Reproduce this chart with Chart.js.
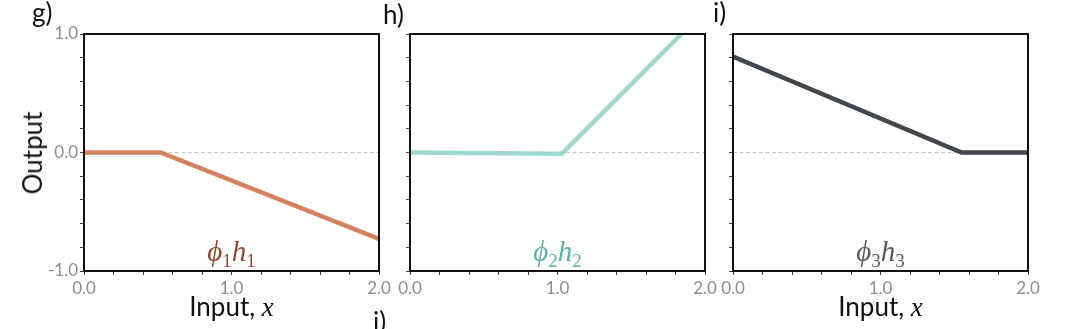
<!DOCTYPE html>
<html>
<head>
<meta charset="utf-8">
<script src="https://cdn.jsdelivr.net/npm/chart.js@4/dist/chart.umd.min.js"></script>
<style>
  body { margin: 0; background: #fff; }
  #wrap { position: relative; width: 1079px; height: 329px; overflow: hidden; font-family: Lato, "Open Sans", sans-serif; }
  #wrap canvas { position: absolute; left: 0; top: 0; }
  .txt { position: absolute; white-space: nowrap; color: #111; font-size: 26px; line-height: 1; }
  .math { font-family: "Liberation Serif", "DejaVu Serif", serif; font-size: 29px; }
  .math i { font-style: italic; }
  .math sub { font-style: normal; font-size: 19px; vertical-align: -6px; line-height: 0; }
  .xv { font-family: "Liberation Serif", serif; font-style: italic; font-size: 27px; }
</style>
</head>
<body>
<div id="wrap">
  <canvas id="c0" width="1079" height="329"></canvas>
  <canvas id="c1" width="1079" height="329"></canvas>
  <canvas id="c2" width="1079" height="329"></canvas>
</div>
<script>
// panel data
const panelLabels = ['g)', 'h)', 'i)'];
const xValues = [
  [0, 0.52, 2.0],
  [0, 1.03, 2.0],
  [0, 1.55, 2.0]
];
const yValues = [
  [0, 0, -0.73],
  [0, -0.01, 1.2],
  [0.81, 0, 0]
];
const zeroX = [0, 2];
const zeroY = [0, 0];
const xTicks = [0, 1, 2];
const yTicks = [-1, 0, 1];

const lineColors = ['#d4815e', '#9fd9cd', '#41474c'];
const mathColors = ['#8e4a2c', '#5cb0a5', '#555a5e'];
const areaLeft = [84, 410, 733];
const areaRight = [379, 705, 1028];
const areaTop = 34, areaBottom = 271;
const Y_AXIS_W = 50;

const frame = {
  id: 'frame',
  afterDatasetsDraw(chart) {
    const a = chart.chartArea, ctx = chart.ctx;
    ctx.save();
    ctx.strokeStyle = '#111';
    ctx.lineWidth = 2;
    ctx.strokeRect(a.left, a.top, a.right - a.left, a.bottom - a.top);
    ctx.restore();
  }
};

function majorLabel(list) {
  return v => list.some(t => Math.abs(t - v) < 1e-6) ? v.toFixed(1) : '';
}

const wrap = document.getElementById('wrap');
function addText(html, cls, css) {
  const d = document.createElement('div');
  d.className = 'txt ' + (cls || '');
  d.innerHTML = html;
  Object.assign(d.style, css);
  wrap.appendChild(d);
  return d;
}

panelLabels.forEach((label, i) => {
  const pts = xValues[i].map((x, k) => ({ x, y: yValues[i][k] }));
  const zero = zeroX.map((x, k) => ({ x, y: zeroY[k] }));
  new Chart(document.getElementById('c' + i), {
    type: 'line',
    data: {
      datasets: [
        { data: zero, borderColor: '#c6c6c6', borderWidth: 1.2, borderDash: [4, 2.5], pointRadius: 0, order: 2 },
        { data: pts, borderColor: lineColors[i], borderWidth: 4.5, pointRadius: 0, clip: 0, order: 1 }
      ]
    },
    options: {
      responsive: false,
      animation: false,
      events: [],
      layout: { padding: { left: areaLeft[i] - Y_AXIS_W, right: 1079 - areaRight[i], top: areaTop, bottom: 0 } },
      plugins: { legend: { display: false }, tooltip: { enabled: false } },
      scales: {
        x: {
          type: 'linear', min: 0, max: 2,
          afterFit: s => { s.height = 329 - areaBottom; },
          border: { display: false },
          grid: { drawOnChartArea: false, drawTicks: true, tickLength: 4, tickColor: '#444' },
          ticks: { stepSize: 0.2, autoSkip: false, maxRotation: 0, padding: 3,
                   color: '#8e8e8e', font: { family: 'Lato', size: 17 }, callback: majorLabel(xTicks) }
        },
        y: {
          type: 'linear', min: -1, max: 1,
          afterFit: s => { s.width = Y_AXIS_W; },
          border: { display: false },
          grid: { drawOnChartArea: false, drawTicks: true, tickLength: 4, tickColor: '#444' },
          ticks: { stepSize: 0.2, autoSkip: false, padding: 2,
                   color: '#8e8e8e', font: { family: 'Lato', size: 17 },
                   callback: i === 0 ? majorLabel(yTicks) : () => '' }
        }
      }
    },
    plugins: [frame]
  });

  const mid = (areaLeft[i] + areaRight[i]) / 2;
  const n = i + 1;
  addText('<i>&#981;</i><sub>' + n + '</sub><i>h</i><sub>' + n + '</sub>', 'math',
    { left: mid + 'px', top: '237px', color: mathColors[i], transform: 'translateX(-50%)' });
  if (i !== 1) {
    addText('Input, <span class="xv">x</span>', '', { left: mid + 'px', top: '293px', transform: 'translateX(-50%)' });
  }
});

addText('g)', '', { left: '32px', top: '-1px' });
addText('h)', '', { left: '383px', top: '1px' });
addText('i)', '', { left: '713px', top: '-1px' });
addText('i)', '', { left: '373px', top: '308px' });
addText('Output', '', { left: '32px', top: '153px', transform: 'translate(-50%,-50%) rotate(-90deg)' });
</script>
</body>
</html>
